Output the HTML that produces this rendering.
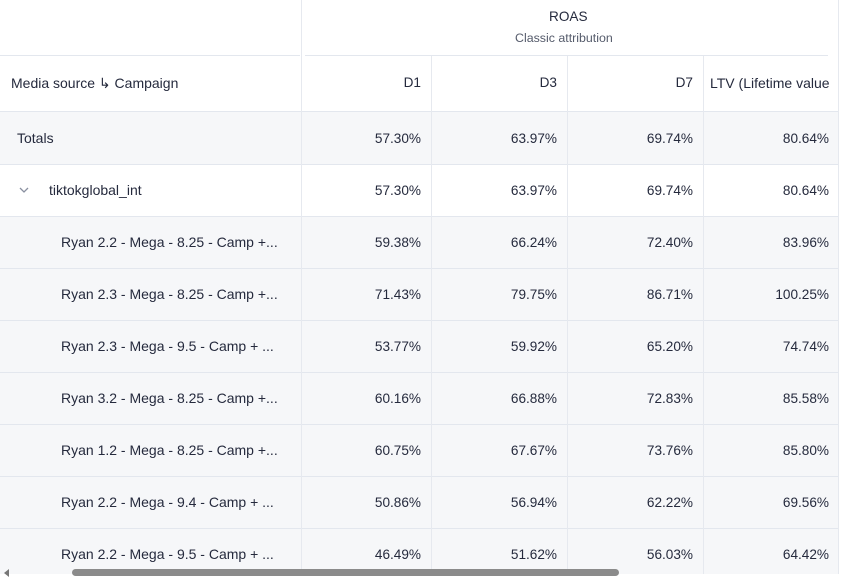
<!DOCTYPE html>
<html><head><meta charset="utf-8"><style>
*{margin:0;padding:0;box-sizing:border-box}
body{width:845px;height:574px;overflow:hidden;background:#fff;font-family:"Liberation Sans",sans-serif;font-size:13.6px;color:#252a3d;position:relative}
.a{position:absolute}
.hl{position:absolute;height:1px;background:#e3e7ee}
.vl{position:absolute;width:1px;background:#e6e9ef}
.n{position:absolute;text-align:right;width:120px;white-space:nowrap}
.t{position:absolute;white-space:nowrap}
.l{font-size:14px}
</style></head><body>
<div class="a" style="left:0;top:111px;width:838px;height:53px;background:#f6f7f9"></div>
<div class="a" style="left:0;top:216px;width:838px;height:358px;background:#f6f7f9"></div>
<div class="hl" style="left:0;top:55px;width:300px"></div>
<div class="hl" style="left:305px;top:55px;width:523px"></div>
<div class="hl" style="left:0;top:111px;width:838px"></div>
<div class="hl" style="left:0;top:164px;width:838px"></div>
<div class="hl" style="left:0;top:216px;width:838px"></div>
<div class="hl" style="left:0;top:268px;width:838px"></div>
<div class="hl" style="left:0;top:320px;width:838px"></div>
<div class="hl" style="left:0;top:372px;width:838px"></div>
<div class="hl" style="left:0;top:424px;width:838px"></div>
<div class="hl" style="left:0;top:476px;width:838px"></div>
<div class="hl" style="left:0;top:528px;width:838px"></div>
<div class="vl" style="left:301px;top:0;height:574px"></div>
<div class="vl" style="left:431px;top:56px;height:518px"></div>
<div class="vl" style="left:567px;top:56px;height:518px"></div>
<div class="vl" style="left:703px;top:56px;height:518px"></div>
<div class="vl" style="left:838px;top:0;height:574px"></div>
<div class="t" style="left:549px;top:9px">ROAS</div>
<div class="t" style="left:515px;top:31px;font-size:12.4px;color:#555b6b">Classic attribution</div>
<div class="t l" style="left:11px;top:75px">Media source ↳ Campaign</div>
<div class="n" style="left:301px;top:75px">D1</div>
<div class="n" style="left:437px;top:75px">D3</div>
<div class="n" style="left:573px;top:75px">D7</div>
<div class="t l" style="left:710px;top:75px;width:119px;overflow:hidden">LTV (Lifetime value)</div>
<div class="t l" style="left:17px;top:130px">Totals</div>
<svg class="a" style="left:19px;top:187px" width="10" height="7"><path d="M1 1 L5 5 L9 1" stroke="#8a90a0" stroke-width="1.3" fill="none"/></svg>
<div class="t l" style="left:49px;top:182px">tiktokglobal_int</div>
<div id="d"></div>
<div class="a" style="left:72px;top:569px;width:547px;height:7px;border-radius:4px;background:#8b8b8b"></div>
<div class="a" style="left:4px;top:569px;width:0;height:0;border-right:5px solid #777;border-top:4px solid transparent;border-bottom:4px solid transparent"></div>
<script>
var rows=[["",131,"57.30%","63.97%","69.74%","80.64%"],["",183,"57.30%","63.97%","69.74%","80.64%"],
["Ryan 2.2 - Mega - 8.25 - Camp +...",235,"59.38%","66.24%","72.40%","83.96%"],
["Ryan 2.3 - Mega - 8.25 - Camp +...",287,"71.43%","79.75%","86.71%","100.25%"],
["Ryan 2.3 - Mega - 9.5 - Camp + ...",339,"53.77%","59.92%","65.20%","74.74%"],
["Ryan 3.2 - Mega - 8.25 - Camp +...",391,"60.16%","66.88%","72.83%","85.58%"],
["Ryan 1.2 - Mega - 8.25 - Camp +...",443,"60.75%","67.67%","73.76%","85.80%"],
["Ryan 2.2 - Mega - 9.4 - Camp + ...",495,"50.86%","56.94%","62.22%","69.56%"],
["Ryan 2.2 - Mega - 9.5 - Camp + ...",547,"46.49%","51.62%","56.03%","64.42%"]];
var h="",L=[301,437,573,709];
rows.forEach(function(r){if(r[0])h+='<div class="t l" style="left:61px;top:'+(r[1]-1)+'px">'+r[0]+'</div>';
for(var i=0;i<4;i++)h+='<div class="n" style="left:'+L[i]+'px;top:'+r[1]+'px">'+r[2+i]+'</div>';});
document.getElementById("d").innerHTML=h;
</script>
</body></html>
